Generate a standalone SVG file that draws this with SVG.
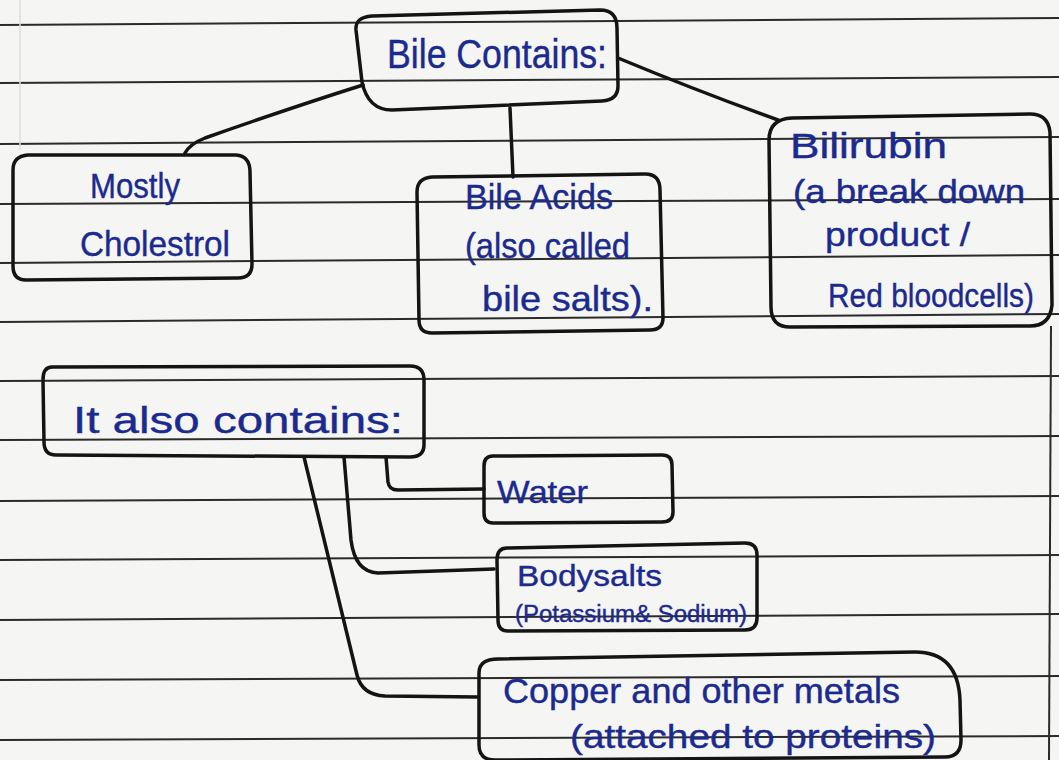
<svg xmlns="http://www.w3.org/2000/svg" width="1059" height="760" viewBox="0 0 1059 760">
<style>
.paper{fill:#f5f5f3}
.rule{stroke:#2b2b2b;stroke-width:2;fill:none}
.box{fill:none;stroke:#141414;stroke-width:3.5;stroke-linejoin:round;stroke-linecap:round}
.conn{fill:none;stroke:#141414;stroke-width:3.5;stroke-linecap:round;stroke-linejoin:round}
.t{font-family:"Liberation Sans","DejaVu Sans",sans-serif;fill:#1b2a8f;stroke:#1b2a8f;stroke-width:0.4}
</style>
<rect class="paper" x="0" y="0" width="1059" height="760"/>
<g id="ruling">
<line class="rule" x1="0" y1="25" x2="1059" y2="18"/>
<line class="rule" x1="0" y1="83" x2="1059" y2="77"/>
<line class="rule" x1="0" y1="144" x2="1059" y2="137"/>
<line class="rule" x1="0" y1="204" x2="1059" y2="199"/>
<line class="rule" x1="0" y1="263" x2="1059" y2="255"/>
<line class="rule" x1="0" y1="322" x2="1059" y2="314"/>
<line class="rule" x1="0" y1="381" x2="1059" y2="376"/>
<line class="rule" x1="0" y1="440" x2="1059" y2="436"/>
<line class="rule" x1="0" y1="501" x2="1059" y2="496"/>
<line class="rule" x1="0" y1="560" x2="1059" y2="555"/>
<line class="rule" x1="0" y1="620" x2="1059" y2="614"/>
<line class="rule" x1="0" y1="680" x2="1059" y2="676"/>
<line class="rule" x1="0" y1="740" x2="1059" y2="736"/>
<line class="rule" x1="1051" y1="326" x2="1049" y2="760"/>
<line x1="20" y1="0" x2="20" y2="150" stroke="#dcdcdc" stroke-width="1.5"/>
</g>
<g id="connectors">
<path class="conn" d="M363 85 Q290 108 205 138 Q190 144 185 153"/>
<path class="conn" d="M510 108 L513 177"/>
<path class="conn" d="M618 58 Q700 92 778 120"/>
<path class="conn" d="M386 457 L388 482 Q389 490 398 490 L484 489"/>
<path class="conn" d="M344 457 L351 540 Q355 572 378 573 L494 569"/>
<path class="conn" d="M304 457 L357 675 Q362 695 385 696 L478 697"/>
</g>
<g id="bile-contains">
<path class="box" d="M372 16 L600 10 Q617 10 617 28 L618 86 Q618 100 602 101 L392 110 Q368 110 362 82 L356 30 Q355 17 372 16 Z"/>
<text class="t" x="387" y="68" font-size="40" textLength="220" lengthAdjust="spacingAndGlyphs">Bile Contains:</text>
</g>
<g id="mostly-cholestrol">
<path class="box" d="M28 155 L236 155 Q250 156 250 172 L252 264 Q252 278 238 278 L26 280 Q13 280 13 266 L13 170 Q13 156 28 155 Z"/>
<text class="t" x="90" y="198" font-size="35" textLength="90" lengthAdjust="spacingAndGlyphs">Mostly</text>
<text class="t" x="80" y="256" font-size="35" textLength="150" lengthAdjust="spacingAndGlyphs">Cholestrol</text>
</g>
<g id="bile-acids">
<path class="box" d="M432 177 L645 174 Q660 174 660 190 L663 318 Q663 330 650 330 L432 333 Q419 333 419 320 L417 192 Q417 178 432 177 Z"/>
<text class="t" x="465" y="209" font-size="35" textLength="148" lengthAdjust="spacingAndGlyphs">Bile Acids</text>
<text class="t" x="465" y="258" font-size="35" textLength="165" lengthAdjust="spacingAndGlyphs">(also called</text>
<text class="t" x="482" y="311" font-size="35" textLength="171" lengthAdjust="spacingAndGlyphs">bile salts).</text>
</g>
<g id="bilirubin">
<path class="box" d="M792 118 L1030 114 Q1048 114 1050 132 L1052 305 Q1050 326 1030 326 L790 327 Q771 327 771 307 L769 140 Q769 119 792 118 Z"/>
<text class="t" x="790" y="158" font-size="35" textLength="157" lengthAdjust="spacingAndGlyphs">Bilirubin</text>
<text class="t" x="793" y="203" font-size="34" textLength="232" lengthAdjust="spacingAndGlyphs">(a break down</text>
<text class="t" x="825" y="246" font-size="34" textLength="145" lengthAdjust="spacingAndGlyphs">product /</text>
<text class="t" x="828" y="307" font-size="33" textLength="206" lengthAdjust="spacingAndGlyphs">Red bloodcells)</text>
</g>
<g id="also-contains">
<path class="box" d="M52 367 L410 366 Q424 366 424 380 L424 445 Q424 457 410 457 L56 455 Q44 455 44 442 L43 380 Q43 367 52 367 Z"/>
<text class="t" x="73" y="433" font-size="37" textLength="330" lengthAdjust="spacingAndGlyphs">It also contains:</text>
</g>
<g id="water">
<path class="box" d="M493 456 L662 455 Q672 455 672 465 L673 512 Q673 522 662 522 L493 523 Q484 523 484 513 L484 466 Q484 456 493 456 Z"/>
<text class="t" x="497" y="503" font-size="32" textLength="91" lengthAdjust="spacingAndGlyphs">Water</text>
</g>
<g id="bodysalts">
<path class="box" d="M507 548 L745 543 Q757 543 757 555 L757 618 Q757 630 745 630 L508 631 Q498 631 498 620 L497 560 Q497 548 507 548 Z"/>
<text class="t" x="517" y="586" font-size="30" textLength="145" lengthAdjust="spacingAndGlyphs">Bodysalts</text>
<text class="t" x="515" y="622" font-size="23" textLength="232" lengthAdjust="spacingAndGlyphs">(Potassium&amp; Sodium)</text>
</g>
<g id="copper">
<path class="box" d="M498 659 L915 652 Q958 652 960 700 L961 740 Q961 757 945 757 L495 760 Q479 760 479 745 L479 673 Q479 659 498 659 Z"/>
<text class="t" x="503" y="703" font-size="35" textLength="397" lengthAdjust="spacingAndGlyphs">Copper and other metals</text>
<text class="t" x="570" y="748" font-size="34" textLength="366" lengthAdjust="spacingAndGlyphs">(attached to proteins)</text>
</g>
</svg>
